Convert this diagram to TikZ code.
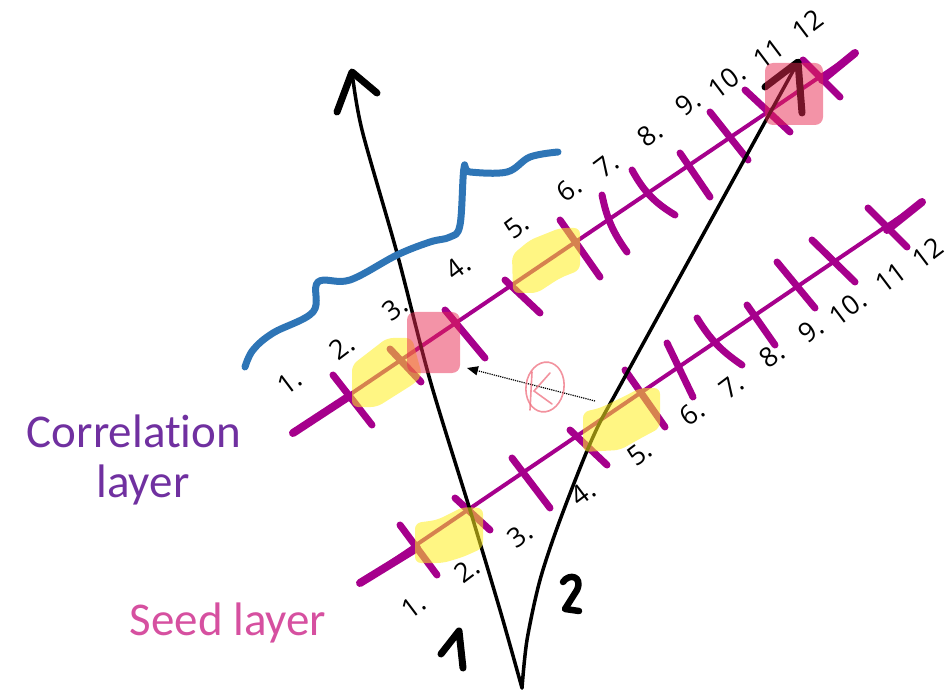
\documentclass[tikz,border=0pt]{standalone}
\usepackage{fontspec}
\setmainfont{Carlito}[Ligatures=NoCommon]
\newfontfamily\numfont{Open Sans}
\usetikzlibrary{arrows.meta}
\definecolor{mag}{RGB}{166,0,140}
\definecolor{hlyel}{RGB}{255,238,30}
\definecolor{hlred}{RGB}{232,40,80}
\definecolor{blu}{RGB}{46,117,182}
\definecolor{corrpurp}{RGB}{112,48,160}
\definecolor{seedpink}{RGB}{214,80,160}
\definecolor{scrib}{RGB}{238,110,125}
\tikzset{
  magline/.style={draw=mag,line width=4pt,line cap=round},
  magend/.style={draw=mag,line width=8pt,line cap=round},
  tickmark/.style={draw=mag,line width=7pt,line cap=round},
  numlab/.style={font=\numfont\fontsize{27}{30}\selectfont,rotate=37,inner sep=0pt},
  yelhl/.style={fill=hlyel,fill opacity=0.55,draw=none,rounded corners=6pt},
  redhl/.style={fill=hlred,fill opacity=0.5,draw=none,rounded corners=8pt},
  blackarrow/.style={draw=black,line width=3.5pt,line cap=round,line join=round},
  headstroke/.style={draw=black,line width=7pt,line cap=round,line join=round},
  handdigit/.style={draw=black,line width=7pt,line cap=round,line join=round},
  layerlab/.style={font=\fontsize{47}{50}\selectfont,inner sep=0pt},
}
\begin{document}
\begin{tikzpicture}[x=1pt,y=-1pt]
\useasboundingbox (0,0) rectangle (950,692);

% ---- coordinates
\coordinate (cS) at (293,433);
\coordinate (cE) at (855,53);
\coordinate (sS) at (360,583);
\coordinate (sE) at (922,202);
\coordinate (base) at (522,688);
\coordinate (tipA) at (352,72);
\coordinate (tipB) at (798,62);
\coordinate (dotS) at (595,401);
\coordinate (dotE) at (467,368);

% ---- correlation layer line
\draw[magline] (cS) -- (cE);
\draw[magend] (cS) -- (348,397);
\draw[magend] (822,80) -- (cE);
\foreach \a/\b in {{333,375}/{372,425},{390,349}/{421,382},{445,310}/{485,358},
  {505,280}/{540,313},{560,220}/{600,277},{680,153}/{710,197},{710,112}/{748,160},
  {745,90}/{790,132},{803,60}/{840,97}}
  \draw[tickmark] (\a) -- (\b);
\draw[tickmark] (602,195) to[bend right=12] (627,252);
\draw[tickmark] (632,170) to[bend right=15] (675,215);

% ---- seed layer line
\draw[magline] (sS) -- (sE);
\draw[magend] (sS) -- (417,548);
\draw[magend] (887,230) -- (sE);
\foreach \a/\b in {{400,525}/{437,575},{455,498}/{490,530},{512,458}/{550,508},
  {570,430}/{607,465},{625,370}/{665,427},{667,343}/{693,397},
  {747,305}/{775,345},{777,262}/{815,308},{812,240}/{855,282},{868,208}/{907,247}}
  \draw[tickmark] (\a) -- (\b);
\draw[tickmark] (697,318) to[bend right=12] (742,365);

% ---- number labels, correlation layer
\node[numlab] (c1) at (290,382) {1.};
\node[numlab] (c2) at (342,347) {2.};
\node[numlab] (c3) at (395,308) {3.};
\node[numlab] (c4) at (458,267) {4.};
\node[numlab] (c5) at (517,226) {5.};
\node[numlab] (c6) at (569,189) {6.};
\node[numlab] (c7) at (607,165) {7.};
\node[numlab] (c8) at (650,134) {8.};
\node[numlab] (c9) at (688,103) {9.};
\node[numlab] (c10) at (727,81) {10.};
\node[numlab] (c11) at (769,54) {11};
\node[numlab] (c12) at (808,25) {12};

% ---- number labels, seed layer
\node[numlab] (s1) at (414,606) {1.};
\node[numlab] (s2) at (467,570) {2.};
\node[numlab] (s3) at (520,535) {3.};
\node[numlab] (s4) at (583,493) {4.};
\node[numlab] (s5) at (640,453) {5.};
\node[numlab] (s6) at (692,413) {6.};
\node[numlab] (s7) at (732,386) {7.};
\node[numlab] (s8) at (772,355) {8.};
\node[numlab] (s9) at (811,330) {9.};
\node[numlab] (s10) at (848,308) {10.};
\node[numlab] (s11) at (891,278) {11};
\node[numlab] (s12) at (928,253) {12};

% ---- track 1
\draw[blackarrow] plot[smooth] coordinates {(base) (500,610) (470,510) (430,380) (397,253) (362,130) (tipA)};
\draw[headstroke] (337,112) -- (tipA) -- (377,93);

% ---- track 2
\draw[blackarrow] plot[smooth] coordinates {(base) (527,640) (540,580) (560,520) (593,437) (627,373) (tipB)};
\draw[headstroke] (765,87) -- (tipB) -- (802,113);

% ---- hand-written track numbers
\draw[handdigit] (441,654) -- (459,631) -- (463,668);
\draw[handdigit,line width=6.5pt] (563,582) .. controls (569,573) and (583,576) .. (577,590) -- (565,609) -- (579,611);

% ---- blue curve
\draw[blu,line width=7pt,line cap=round,line join=round] plot[smooth,tension=0.6] coordinates {
 (245,367) (253,350) (273,333) (313,312) (318,282) (350,280) (397,255) (430,242) (450,237) (460,225) (464,168) (470,172) (507,172) (530,157) (558,152)};

% ---- dotted arrow and scribble
\draw[densely dotted,line width=1.2pt,-{Triangle[length=11pt,width=9pt]}] (dotS) -- (dotE);
\begin{scope}[draw=scrib,line width=1.6pt,opacity=0.75,line cap=round]
  \draw[rotate around={-8:(545,387)}] (545,387) ellipse [x radius=19, y radius=25];
  \draw (532,372) -- (530,410);
  \draw (550,373) -- (534,391) -- (552,404);
\end{scope}

% ---- highlights
\fill[yelhl] (352,365) -- (387,338) -- (412,338) -- (422,375) -- (415,383) -- (377,407) -- (352,407) -- cycle;
\fill[yelhl] (512,255) -- (530,240) -- (560,228) -- (580,228) -- (580,270) -- (560,278) -- (537,293) -- (513,293) -- cycle;
\fill[yelhl] (415,523) -- (437,520) -- (463,507) -- (483,508) -- (483,548) -- (463,557) -- (443,563) -- (415,563) -- cycle;
\fill[yelhl] (583,412) -- (600,408) -- (627,395) -- (640,388) -- (660,388) -- (660,428) -- (643,437) -- (620,450) -- (583,452) -- cycle;
\fill[redhl] (407,312) rectangle (460,373);
\fill[redhl] (765,63) rectangle (823,125);

% ---- layer labels
\node[layerlab,text=corrpurp,anchor=base] (corrA) at (134,447) {Correlation};
\node[layerlab,text=corrpurp,anchor=base] (corrB) at (143,497) {layer};
\node[layerlab,text=seedpink,anchor=base] (seed) at (228,635) {Seed layer};
\end{tikzpicture}
\end{document}
